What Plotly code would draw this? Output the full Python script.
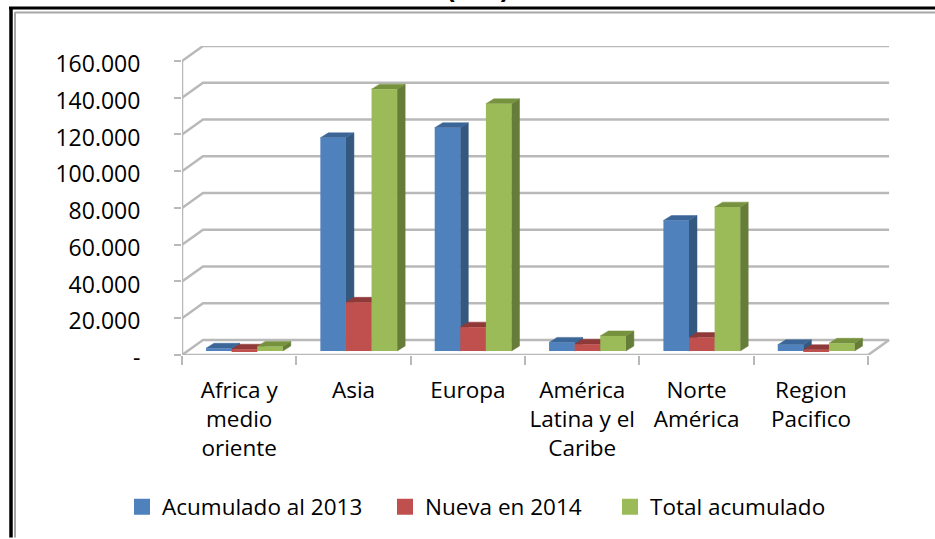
import plotly.graph_objects as go

categories = ["Africa y<br>medio<br>oriente", "Asia", "Europa",
              "América<br>Latina y el<br>Caribe", "Norte<br>América", "Region<br>Pacifico"]
acumulado_2013 = [1500, 116000, 121500, 4700, 71000, 3400]
nueva_2014 = [1000, 26500, 13000, 3700, 7300, 700]
total_acumulado = [2500, 142500, 134500, 8200, 78300, 4200]
y_ticks = [0, 20000, 40000, 60000, 80000, 100000, 120000, 140000, 160000]
y_labels = ["-", "20.000", "40.000", "60.000", "80.000", "100.000", "120.000", "140.000", "160.000"]

FONT = "Open Sans"
FONT_SIZE = 22.5
GRID = "#b9b9b9"
W, H = 935, 539
LEFT, RIGHT, TOP, BOTTOM = 182, 891, 46, 356
PX_X = 114.35              # pixels per category
PX_Y = 295 / 160000        # pixels per unit of value

series = [
    ("Acumulado al 2013", acumulado_2013, "#4F81BD", "#35587f", "#3b6697"),
    ("Nueva en 2014", nueva_2014, "#C0504D", "#8c3836", "#8f3a38"),
    ("Total acumulado", total_acumulado, "#9BBB59", "#667d39", "#76923f"),
]

# depth of the fake 3D box, in data units
wall_dx, wall_dy = 21 / PX_X, 15 / PX_Y
bar_dx, bar_dy = 8 / PX_X, 5 / PX_Y
bar_base = 4 / PX_Y
bar_w = 25.6 / PX_X
bar_start = 0.21

x_max = (RIGHT - LEFT) / PX_X
y_max = (BOTTOM - TOP) / PX_Y


def px(x):
    return (x - LEFT) / (RIGHT - LEFT)


def py(y):
    return (BOTTOM - y) / (BOTTOM - TOP)


def line(xs, ys, width=2.5, color=GRID):
    return go.Scatter(x=xs, y=ys, mode="lines", line=dict(color=color, width=width),
                      showlegend=False, hoverinfo="skip", cliponaxis=False)


def face(xs, ys, color):
    return go.Scatter(x=xs, y=ys, mode="lines", fill="toself", fillcolor=color,
                      line=dict(color=color, width=0.5), showlegend=False,
                      hoverinfo="skip", cliponaxis=False)


fig = go.Figure()

# back wall and floor
for v in y_ticks:
    fig.add_trace(line([0, wall_dx, 6 + wall_dx], [v, v + wall_dy, v + wall_dy]))
fig.add_trace(line([0, 6, 6 + wall_dx], [0, 0, wall_dy]))
fig.add_trace(line([0, 0], [0, y_ticks[-1]]))

# side and top faces, computed from the values
for k, (name, values, front, side, top) in enumerate(series):
    for i, v in enumerate(values):
        x0 = i + bar_start + k * bar_w
        x1 = x0 + bar_w
        y0 = bar_base
        y1 = bar_base + v
        fig.add_trace(face([x1, x1 + bar_dx, x1 + bar_dx, x1, x1],
                           [y0, y0 + bar_dy, y1 + bar_dy, y1, y0], side))
        fig.add_trace(face([x0, x1, x1 + bar_dx, x0 + bar_dx, x0],
                           [y1, y1, y1 + bar_dy, y1 + bar_dy, y1], top))

# front faces sit on an overlaid axis pair so they cover the depth faces
for k, (name, values, front, side, top) in enumerate(series):
    fig.add_trace(go.Bar(
        x=[i + 0.5 for i in range(len(categories))],
        y=values,
        base=bar_base,
        width=bar_w,
        offset=bar_start + k * bar_w - 0.5,
        marker=dict(color=front, line=dict(width=0)),
        xaxis="x2", yaxis="y2",
        showlegend=False,
        name=name,
        cliponaxis=False,
    ))

# one legend per entry, the reference spaces them unevenly
legend_x = [140, 403, 628]
for k, (name, values, front, side, top) in enumerate(series):
    fig.add_trace(go.Scatter(
        x=[None], y=[None], mode="markers", name=name,
        marker=dict(symbol="square", size=16, color=front),
        legend="legend" if k == 0 else f"legend{k + 1}",
    ))


def legend_box(x_left):
    return dict(x=px(x_left - 12), y=py(507), xanchor="left", yanchor="middle",
                bgcolor="rgba(0,0,0,0)", itemclick=False, itemdoubleclick=False,
                indentation=-6,
                font=dict(family=FONT, size=FONT_SIZE, color="#000000"))


fig.update_layout(
    width=W, height=H, autosize=False,
    margin=dict(l=LEFT, r=W - RIGHT, t=TOP, b=H - BOTTOM, pad=0),
    paper_bgcolor="white", plot_bgcolor="white",
    barmode="overlay",
    font=dict(family=FONT, size=FONT_SIZE, color="#000000"),
    showlegend=True,
    legend=legend_box(legend_x[0]),
    legend2=legend_box(legend_x[1]),
    legend3=legend_box(legend_x[2]),
    xaxis=dict(
        range=[0, x_max], showgrid=False, zeroline=False, showline=False,
        tickmode="array", tickvals=[i + 0.5 for i in range(6)], ticktext=categories,
        ticks="", ticklabelstandoff=19,
        minor=dict(ticks="outside", tickmode="linear", tick0=0, dtick=1, ticklen=9,
                   tickcolor=GRID, tickwidth=1.5, showgrid=False),
    ),
    yaxis=dict(
        range=[0, y_max], showgrid=False, zeroline=False, showline=False,
        tickmode="array", tickvals=y_ticks, ticktext=y_labels,
        ticks="outside", ticklen=7, tickcolor=GRID, tickwidth=2, ticklabelstandoff=29,
        ticklabelshift=3, tickfont=dict(size=23),
    ),
    xaxis2=dict(range=[0, x_max], overlaying="x", visible=False),
    yaxis2=dict(range=[0, y_max], overlaying="y", visible=False),
    shapes=[
        # double frame, cut by the page on the right and at the bottom
        dict(type="line", xref="paper", yref="paper", x0=px(9), x1=px(W), y0=py(8), y1=py(8),
             line=dict(color="#000000", width=3)),
        dict(type="line", xref="paper", yref="paper", x0=px(15), x1=px(W), y0=py(12.5), y1=py(12.5),
             line=dict(color="#a6a6a6", width=2)),
        dict(type="line", xref="paper", yref="paper", x0=px(11), x1=px(11), y0=py(7), y1=py(H),
             line=dict(color="#000000", width=3.5)),
        dict(type="line", xref="paper", yref="paper", x0=px(15), x1=px(15), y0=py(12), y1=py(H),
             line=dict(color="#a6a6a6", width=2)),
    ],
    annotations=[
        # title of the source, only its lower edge is left inside the crop
        dict(text="<b>(MW)</b>", xref="paper", yref="paper", x=px(478), y=py(5), xanchor="center",
             yanchor="bottom", yshift=0, showarrow=False,
             font=dict(family="Liberation Sans", size=26, color="#000000")),
    ],
)

fig.write_html("out.html", config=dict(displayModeBar=False),
               post_script="document.body.style.margin='0';")
